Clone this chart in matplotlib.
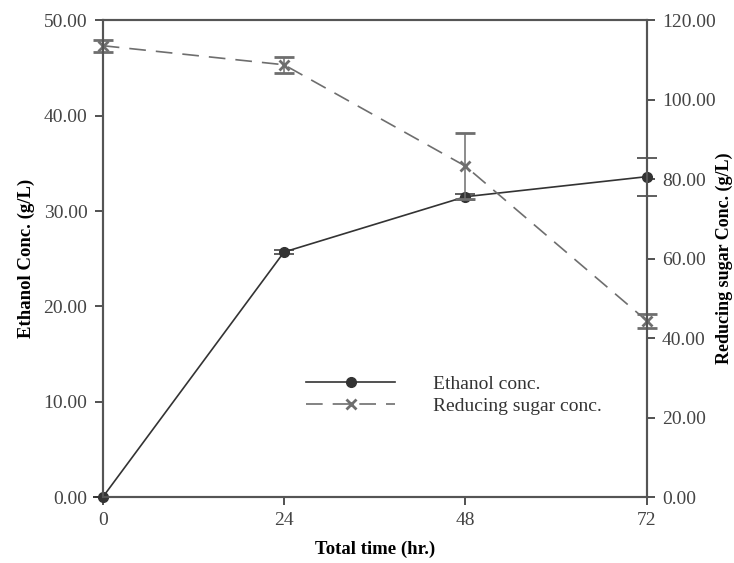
import numpy as np
import matplotlib.pyplot as plt
from matplotlib.lines import Line2D

plt.rcParams['font.family'] = ['Liberation Serif', 'DejaVu Serif']

# data
time_hr = [0, 24, 48, 72]
ethanol = [0.0, 25.7, 31.5, 33.6]
ethanol_err = [0.0, 0.2, 0.3, 2.0]
sugar = [113.6, 108.8, 83.3, 44.4]
sugar_err = [1.5, 2.0, 8.3, 1.8]

fig = plt.figure(figsize=(7.34, 5.63), dpi=100)
ax = fig.add_axes([0.140, 0.117, 0.741, 0.847])
ax2 = ax.twinx()

dark = '#333333'
grey = '#6e6e6e'

eb1 = ax.errorbar(time_hr, ethanol, yerr=ethanol_err, color=dark, lw=1.2,
                  marker='o', ms=7, capsize=7, elinewidth=1.1, capthick=1.1,
                  zorder=3)
eb2 = ax2.errorbar(time_hr, sugar, yerr=sugar_err, color=grey, lw=1.2,
                   dashes=(10, 6), marker='x', ms=7, mew=2, capsize=7,
                   elinewidth=1.1, capthick=1.1)
for eb in (eb1, eb2):
    eb[0].set_clip_on(False)
    for c in eb[1]:
        c.set_clip_on(False)
    for b in eb[2]:
        b.set_clip_on(False)

ax.set_xlim(0, 72)
ax.set_ylim(0, 50)
ax2.set_ylim(0, 120)
ax.set_xticks([0, 24, 48, 72])
ax.set_yticks(np.arange(0, 51, 10))
ax2.set_yticks(np.arange(0, 121, 20))
ax.set_yticklabels([f'{v:.2f}' for v in np.arange(0, 51, 10)])
ax2.set_yticklabels([f'{v:.2f}' for v in np.arange(0, 121, 20)])

for a in (ax, ax2):
    a.tick_params(direction='out', length=6, width=1.2, labelsize=14,
                  colors='#333333', labelcolor='#444444', pad=5)
    for s in a.spines.values():
        s.set_color('#555555')
        s.set_linewidth(1.5)

ax.set_xlabel('Total time (hr.)', fontsize=13.5, fontweight='bold', labelpad=8)
ax.set_ylabel('Ethanol Conc. (g/L)', fontsize=13.5, fontweight='bold', labelpad=6)
ax2.set_ylabel('Reducing sugar Conc. (g/L)', fontsize=13, fontweight='bold', labelpad=0)

h1 = Line2D([], [], color=dark, lw=1.2, marker='o', ms=7)
h2 = Line2D([], [], color=grey, lw=1.2, dashes=(10, 6), marker='x', ms=7, mew=2)
ax.legend([h1, h2], ['Ethanol conc.', 'Reducing sugar conc.'],
          loc='upper left', bbox_to_anchor=(0.393, 0.364), bbox_transform=fig.transFigure,
          frameon=False, fontsize=14, handlelength=4.6, handletextpad=1.95,
          labelspacing=0.2, labelcolor='#333333')

fig.savefig('out.png', dpi=100)
